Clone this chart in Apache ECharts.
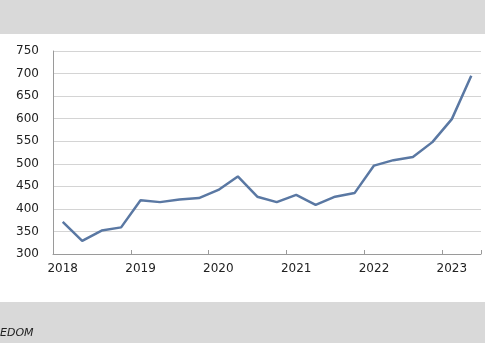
<!DOCTYPE html>
<html>
<head>
<meta charset="utf-8">
<script src="https://cdn.jsdelivr.net/npm/echarts@6/dist/echarts.min.js"></script>
<style>
html,body{margin:0;padding:0;background:#fff;}
#c{width:485px;height:360px;}
</style>
</head>
<body>
<div id="c"></div>
<script>
var categories = ['2018','','','','2019','','','','2020','','','','2021','','','','2022','','','','2023',''];
var values = [371, 329, 352, 359, 419, 415, 421, 424, 442, 472, 427, 415, 431, 409, 427, 435, 496, 508, 515, 548, 599, 695];
var yTicks = [300, 350, 400, 450, 500, 550, 600, 650, 700, 750];
var footerText = 'EDOM';

var chart = echarts.init(document.getElementById('c'), null, {renderer:'canvas'});
chart.setOption({
  animation: false,
  backgroundColor: '#ffffff',
  graphic: [
    {type:'rect', left:0, top:0, shape:{width:485, height:34}, style:{fill:'#d9d9d9'}, silent:true},
    {type:'rect', left:0, top:302, shape:{width:485, height:41}, style:{fill:'#d9d9d9'}, silent:true},
    {type:'text', left:0, top:328, style:{text:footerText, fill:'#222', font:'italic 11px "DejaVu Sans"'}}
  ],
  grid: {left:53, right:4, top:51, bottom:106},
  xAxis: {
    type:'category',
    data: categories,
    boundaryGap: true,
    axisLine: {lineStyle:{color:'#9a9a9a', width:1}},
    axisTick: {show:true, inside:true, length:4, interval:3, lineStyle:{color:'#9a9a9a'}},
    axisLabel: {interval:3, color:'#222', fontFamily:'DejaVu Sans', fontSize:12, margin:9},
    splitLine: {show:false}
  },
  yAxis: {
    type:'value',
    min: yTicks[0],
    max: yTicks[yTicks.length-1],
    interval: 50,
    axisLine: {show:true, lineStyle:{color:'#9a9a9a', width:1}},
    axisTick: {show:false},
    axisLabel: {color:'#222', fontFamily:'DejaVu Sans', fontSize:12, margin:14},
    splitLine: {lineStyle:{color:'#d4d4d4', width:1}}
  },
  series: [{
    type:'line',
    data: values,
    symbol:'none',
    lineStyle:{color:'#5a78a3', width:2.5},
    itemStyle:{color:'#5a78a3'}
  }]
});
</script>
</body>
</html>
